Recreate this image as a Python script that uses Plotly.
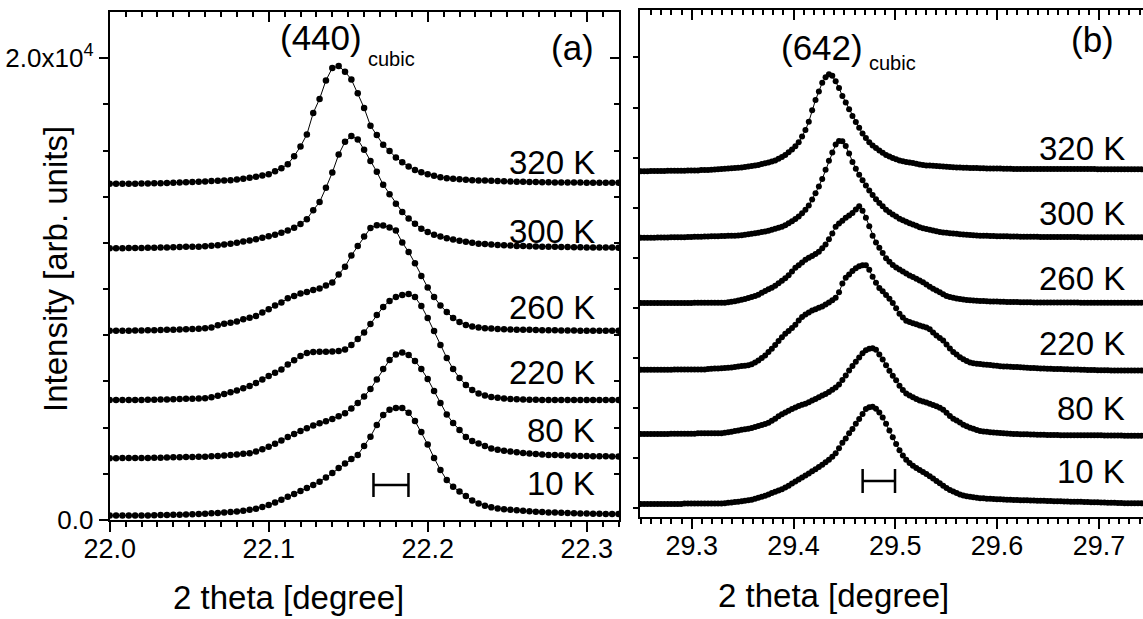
import plotly.graph_objects as go

W, H = 1143, 619

# ---------------- Panel (a): (440) cubic reflection ----------------
a_x0, a_dx = 22.0, 0.004          # 2-theta scan start / step
a_labels = ["10 K", "80 K", "220 K", "260 K", "300 K", "320 K"]
a_10K = [190,190,190,190,190,190,200,210,220,220, 230,230,240,250,260,270,290,300,320,350,
         370,400,440,490,560,650,760,880,1010,1130, 1260,1390,1520,1660,1840,2040,2250,2450,2640,2820,
         3210,3610,4120,4550,4770,4850,4850,4640,4290,3810, 3270,2690,2170,1730,1440,1230,1040,850,720,620,
         550,500,470,440,420,400,380,360,350,330, 320,310,300,290,280,280,270,270,260,260, 260]
a_80K = [2670,2670,2680,2680,2690,2690,2690,2700,2700,2710, 2720,2720,2730,2730,2740,2740,2760,2770,2790,2820,
         2840,2870,2890,2970,3060,3170,3300,3440,3590,3730, 3860,3970,4090,4190,4280,4370,4490,4620,4830,5070,
         5350,5670,6090,6540,6930,7170,7250,7150,6890,6540, 6110,5590,5070,4570,4200,3900,3600,3420,3310,3210,
         3100,3040,3000,2970,2930,2900,2880,2860,2840,2820, 2810,2800,2790,2780,2770,2770,2760,2760,2760,2750, 2750]
a_220K = [5200,5200,5200,5200,5200,5200,5210,5210,5220,5220, 5230,5240,5250,5250,5260,5270,5320,5380,5460,5530,
          5610,5710,5800,5930,6090,6240,6380,6520,6740,6920, 7100,7230,7280,7290,7290,7300,7320,7390,7580,7840,
          8120,8490,8880,9230,9490,9660,9750,9790,9660,9270, 8750,8190,7580,7020,6540,6150,5850,5630,5480,5390,
          5330,5290,5260,5240,5230,5220,5210,5210,5200,5200, 5200,5200,5200,5200,5200,5200,5200,5200,5200,5200, 5200]
a_260K = [8200,8200,8200,8200,8210,8210,8220,8220,8230,8240, 8240,8250,8260,8270,8280,8300,8340,8430,8500,8540,
          8600,8690,8760,8840,8990,9130,9290,9420,9600,9700, 9810,9880,9960,10030,10160,10290,10630,10970,11460,11870,
          12280,12650,12770,12760,12670,12540,12020,11610,11120,10570, 10070,9660,9290,9010,8750,8580,8450,8380,8340,8310,
          8290,8270,8260,8250,8240,8240,8240,8230,8220,8220, 8220,8210,8210,8210,8200,8200,8200,8200,8200,8200, 8200]
a_300K = [11770,11770,11770,11780,11780,11780,11790,11790,11800,11800, 11810,11820,11830,11840,11840,11860,11880,11900,11930,11970,
          12010,12060,12110,12160,12230,12290,12360,12440,12540,12660, 12820,13030,13420,13770,14390,15050,15830,16380,16630,16480,
          16040,15550,15080,14520,14110,13700,13340,13060,12830,12620, 12470,12360,12280,12200,12150,12100,12050,12010,11970,11950,
          11930,11910,11900,11890,11870,11870,11860,11850,11840,11840, 11830,11820,11820,11810,11810,11800,11800,11800,11800,11800, 11790]
a_320K = [14560,14560,14560,14560,14560,14570,14580,14590,14590,14600, 14610,14620,14630,14640,14650,14660,14680,14690,14710,14720,
          14750,14780,14820,14870,14920,14980,15110,15240,15410,15760, 16180,16700,17630,18240,19040,19580,19660,19420,19080,18480,
          17850,17080,16680,16250,15980,15700,15490,15310,15160,15060, 14980,14910,14850,14800,14780,14760,14740,14720,14710,14700,
          14690,14680,14670,14660,14650,14650,14640,14640,14630,14630, 14620,14620,14620,14620,14620,14610,14610,14610,14610,14610, 14610]
a_series = [a_10K, a_80K, a_220K, a_260K, a_300K, a_320K]
a_label_y = [483, 430, 372, 307, 232, 163]      # label positions (px)

# ---------------- Panel (b): (642) cubic reflection ----------------
b_x0, b_dx = 29.25, 0.0033
b_labels = ["10 K", "80 K", "220 K", "260 K", "300 K", "320 K"]
b_10K = ([170]*13 + [190]*12 +
         [200,220,230,250,260,280,300,320,340,380,420,460,500,550] +
         [610,660,710,760,830,900,990,1070,1150,1230,1310,1390,1480,1560,1650,1740,1840,1940,2060,2200] +
         [2400,2620,2790,3000,3170,3380,3570,3760,3960,4030,4050,3970,3820,3620,3380,3110,2840,2570,2320,2110] +
         [1940,1810,1700,1610,1530,1450,1370,1280,1190,1090,1000,900,810,730,670,610,550,510,480,460] +
         [440,420,400,400,380,380,370,360,360,350,340,340,330,330,320,320,320,310,310,300] +
         [300,300,290,290,280,280,280,270,270,260,260,260,260,250,250,240,240,240,230,230] +
         [220,220,220,210,210,200,200,200,200,200,200])
b_80K = ([2970]*9 + [2980]*8 + [3000]*8 +
         [3020,3040,3060,3090,3110,3140,3160,3180,3210,3250,3290,3330,3370,3420,3500,3580,3670,3750,3820,3890] +
         [3960,4020,4080,4130,4170,4230,4300,4360,4430,4500,4560,4640,4730,4820,4940,5120,5300,5500,5680,5850] +
         [6020,6190,6310,6370,6390,6330,6140,5940,5710,5490,5290,5110,4890,4720,4580,4500,4430,4360,4300,4260] +
         [4220,4170,4120,4070,4010,3930,3810,3680,3580,3510,3430,3340,3280,3220,3180,3130,3090,3070,3060,3040] +
         [3030,3020,3010,3000,2990,2980,2970,2970,2960,2960,2960,2950,2950,2940,2940,2940,2930,2930,2930,2930] +
         [2920]*13 + [2910]*6 + [2900]*6)
b_220K = ([5530]*10 + [5540]*10 +
          [5560,5570,5580,5580,5590,5600,5610,5620,5640,5660,5680,5690,5710,5750,5820,5900,6000,6100,6240,6370] +
          [6520,6680,6830,6970,7080,7200,7330,7500,7640,7740,7820,7900,7950,8010,8060,8140,8220,8310,8410,8620] +
          [8970,9200,9330,9470,9580,9660,9700,9700,9520,9240,9000,8790,8660,8520,8370,8200,7990,7770,7620,7490] +
          [7440,7390,7350,7300,7260,7220,7150,7020,6900,6800,6700,6540,6380,6240,6140,6030,5950,5880,5820,5790] +
          [5770,5760,5740,5730,5720,5700,5690,5670,5660,5660,5650,5640,5640,5630,5620,5610,5600,5600,5590,5580] +
          [5580,5570,5570,5560,5560,5560,5550,5550,5540,5540,5540,5530,5530,5520,5520,5520,5510,5510,5510,5510] +
          [5500]*10)
b_260K = ([8200]*16 + [8210]*10 +
          [8230,8250,8270,8300,8330,8360,8400,8440,8480,8530,8600,8670,8740,8800,8880,8980,9080,9180,9300,9450] +
          [9600,9700,9810,9920,10000,10070,10150,10240,10380,10530,10740,10970,11240,11370,11480,11600,11690,11790,11930,12060] +
          [11880,11600,11260,10880,10610,10400,10190,9980,9840,9710,9610,9530,9450,9370,9290,9230,9160,9090,9020,8930] +
          [8840,8760,8690,8620,8550,8480,8440,8410,8380,8360,8340,8320,8310,8300,8290,8280,8280,8270,8260,8260] +
          [8260,8250,8250,8240,8240,8240,8240,8230,8230,8230,8230,8220,8220,8220,8220,8220,8220,8220,8220,8220] +
          [8220]*5 + [8210]*19)
b_300K = ([10800]*5 + [10810]*4 + [10820]*5 +
          [10830,10830,10840,10840,10840,10850,10850,10860,10860,10860,10870,10870,10880,10880,10880,10890] +
          [10900,10920,10940,10960,10980,11000,11030,11050,11080,11120,11160,11200,11240,11300,11380,11460,11550,11650,11780,11920] +
          [12090,12330,12580,12850,13150,13510,13870,14200,14520,14660,14650,14460,14160,13820,13550,13320,13100,12890,12690,12510] +
          [12340,12190,12060,11920,11820,11730,11650,11560,11500,11440,11380,11330,11280,11220,11180,11150,11120,11090,11060,11030] +
          [11010,11000,10980,10970,10960,10940,10930,10920,10910,10900,10890,10880,10880,10880,10870,10870,10860,10860,10860,10860] +
          [10850,10850,10850,10840,10840,10840,10840,10840,10840,10830] + [10830]*11 +
          [10820]*19)
b_320K = ([13460,13460,13460,13470,13470,13470,13470,13470,13480,13480,
           13480,13480,13480,13480,13490,13490,13490,13490,13500,13500,
           13500,13510,13520,13530,13540,13550,13560,13570,13580,13590] +
          [13600,13620,13640,13660,13680,13700,13740,13770,13800,13840,13880,13950,14020,14100,14210,14320,14450,14610,14840,15100] +
          [15430,15890,16300,16640,16990,17210,17330,17270,17050,16780,16460,16200,15930,15660,15420,15190,14960,14780,14610,14480] +
          [14380,14280,14190,14100,14040,13980,13930,13880,13850,13820,13800,13780,13750,13720,13700,13680,13680,13670,13660,13650] +
          [13640,13630,13620,13610,13600,13600,13590,13590,13580,13580,13580,13570,13570,13560,13560,13560,13560,13560,13550,13550] +
          [13550] + [13540]*25 + [13530]*14)
b_series = [b_10K, b_80K, b_220K, b_260K, b_300K, b_320K]
b_label_y = [471, 408, 343, 278, 213, 148]

# instrumental resolution bars (centre, half width, height)
a_res = (22.1769, 0.011, 1520)
b_res = (29.4838, 0.0159, 1090)

# ---------------- geometry ----------------
FONT = "Liberation Sans, Arial, Helvetica, sans-serif"
def px(x): return x / W
def py(y): return 1 - y / H

a_dom_x = [px(109.7), px(619.3)]
a_dom_y = [py(520.0), py(12.3)]
b_dom_x = [px(640.0), 1.0]
b_dom_y = [py(516.7), py(9.5)]
a_xrange = [22.0, 22.3205]
a_yrange = [0, 21990]
b_xrange = [29.2492, 29.7433]
b_yrange = [-335, 19912]

fig = go.Figure()

def add_curves(series, x0, dx, xa, ya, msize):
    for ys in series:
        xs = [x0 + dx * i for i in range(len(ys))]
        fig.add_trace(go.Scatter(x=xs, y=ys, mode="lines+markers",
                                 line=dict(color="black", width=1),
                                 marker=dict(color="black", size=msize),
                                 xaxis=xa, yaxis=ya, showlegend=False, hoverinfo="skip"))

add_curves(a_series, a_x0, a_dx, "x", "y", 6.5)
add_curves(b_series, b_x0, b_dx, "x2", "y2", 6)

for (c, hw, yv), xa, ya in [(a_res, "x", "y"), (b_res, "x2", "y2")]:
    fig.add_trace(go.Scatter(x=[c], y=[yv], mode="markers",
                             marker=dict(size=1, color="rgba(0,0,0,0)"),
                             error_x=dict(type="constant", value=hw, width=12, thickness=2.5, color="black"),
                             xaxis=xa, yaxis=ya, showlegend=False, hoverinfo="skip"))

# dummy traces so that the mirror axes exist
for xa, ya in [("x3", "y"), ("x", "y3"), ("x4", "y2")]:
    fig.add_trace(go.Scatter(x=[], y=[], xaxis=xa, yaxis=ya, showlegend=False))

line = dict(showline=True, linecolor="black", linewidth=2, showgrid=False, zeroline=False,
            tickcolor="black", tickwidth=1.5, automargin=False)

def xaxis_def(dom, rng, t0, anchor, side, ticks, labels, overlay=None):
    d = dict(domain=dom, range=rng, anchor=anchor, side=side, tickmode="linear", tick0=t0, dtick=0.1,
             ticks=ticks, ticklen=10, tickformat=".1f", showticklabels=labels,
             tickfont=dict(size=27, family=FONT, color="black"), ticklabelstandoff=-6,
             minor=dict(tick0=t0, dtick=0.01, ticks=ticks, ticklen=5, tickwidth=1.5, tickcolor="black", showgrid=False),
             **line)
    if overlay:
        d["overlaying"] = overlay
    return d

fig.update_layout(
    width=W, height=H, autosize=False,
    margin=dict(l=0, r=0, t=0, b=0, pad=0),
    paper_bgcolor="white", plot_bgcolor="white",
    font=dict(family=FONT, color="black"),
    xaxis=xaxis_def(a_dom_x, a_xrange, 22.0, "y", "bottom", "outside", True),
    xaxis3=xaxis_def(a_dom_x, a_xrange, 22.0, "y", "top", "inside", False, overlay="x"),
    xaxis2=xaxis_def(b_dom_x, b_xrange, 29.3, "y2", "bottom", "outside", True),
    xaxis4=xaxis_def(b_dom_x, b_xrange, 29.3, "y2", "top", "inside", False, overlay="x2"),
    yaxis=dict(domain=a_dom_y, range=a_yrange, anchor="x", side="left",
               tickmode="array", tickvals=[0, 20000], ticktext=["0.0", "2.0x10<sup>4</sup>"],
               ticks="outside", ticklen=9, tickfont=dict(size=26, family=FONT, color="black"),
               minor=dict(tickmode="linear", tick0=0, dtick=2000, ticks="outside", ticklen=5,
                          tickwidth=1.5, tickcolor="black", showgrid=False), **line),
    yaxis3=dict(domain=a_dom_y, range=a_yrange, anchor="x", side="right", overlaying="y",
                tickmode="array", tickvals=[0, 20000], showticklabels=False,
                ticks="inside", ticklen=9,
                minor=dict(tickmode="linear", tick0=0, dtick=2000, ticks="inside", ticklen=5,
                           tickwidth=1.5, tickcolor="black", showgrid=False), **line),
    yaxis2=dict(domain=b_dom_y, range=b_yrange, anchor="x2", side="left",
                tickmode="linear", tick0=0, dtick=2000, showticklabels=False,
                ticks="outside", ticklen=5, **line),
)

ann = []
def A(text, x, y, size, xanchor="center", yanchor="middle", angle=0):
    ann.append(dict(text=text, x=px(x), y=py(y), xref="paper", yref="paper", showarrow=False,
                    xanchor=xanchor, yanchor=yanchor, textangle=angle,
                    font=dict(size=size, family=FONT, color="black")))

A("Intensity [arb. units]", 55, 269, 33, angle=-90)
A("2 theta [degree]", 288, 597, 33)
A("2 theta [degree]", 833, 595, 33)
A("(440)", 364, 38, 35, xanchor="right")
A("cubic", 366, 59, 20, xanchor="left")
A("(642)", 865, 47, 35, xanchor="right")
A("cubic", 867, 63, 20, xanchor="left")
A("(a)", 572, 47, 35)
A("(b)", 1092, 39, 35)
for t, yy in zip(a_labels, a_label_y):
    A(t, 597, yy, 33, xanchor="right")
for t, yy in zip(b_labels, b_label_y):
    A(t, 1127, yy, 33, xanchor="right")
fig.update_layout(annotations=ann)

fig.write_html("out.html", config={"displayModeBar": False},
               post_script="document.body.style.margin='0';document.body.style.overflow='hidden';")
